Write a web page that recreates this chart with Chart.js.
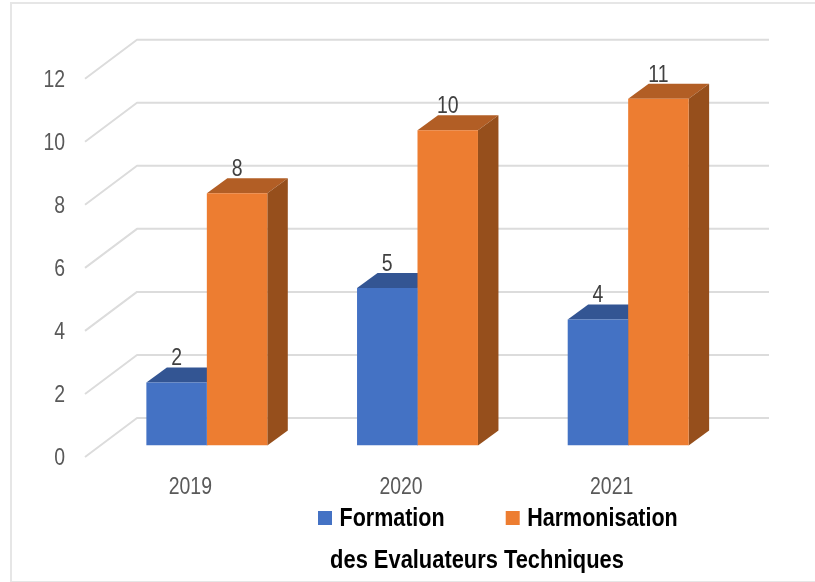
<!DOCTYPE html>
<html><head><meta charset="utf-8">
<style>html,body{margin:0;padding:0;background:#fff}
#wrap{position:relative;width:815px;height:582px;overflow:hidden}
#frame{position:absolute;left:10px;top:2px;width:820px;height:577px;border:2px solid #e6e6e6}
canvas{position:absolute;left:0;top:0}</style>
<script src="https://cdn.jsdelivr.net/npm/chart.js@4/dist/chart.umd.min.js"></script>
</head><body><div id="wrap"><div id="frame"></div><canvas id="c" width="815" height="582"></canvas></div>
<script>
const categories = ['2019', '2020', '2021'];
const formation = [2, 5, 4];
const harmonisation = [8, 10, 11];
const seriesNames = ['Formation', 'Harmonisation'];
const titleText = 'des Evaluateurs Techniques';
const FONT = '"Liberation Sans",Arial,sans-serif';
const WALL = {dx: 52, dy: -39};      // depth of the floor
const PLANE = {dx: 16.5, dy: -11.5}; // offset of the bar fronts from the front edge
const DEPTH = {dx: 20.5, dy: -15};   // depth of a bar
const shades = [{top:'#335593', side:'#2a4674'}, {top:'#B25E25', side:'#964F1C'}];
const LEGEND_PAD = 49;

// The reference text is set in a condensed face: narrow it with fillText's own maxWidth.
const canvas = document.getElementById('c');
const rawCtx = canvas.getContext('2d');
const rawFill = rawCtx.fillText.bind(rawCtx);
rawCtx.fillText = function(t, x, y){
  const squeeze = /bold/.test(rawCtx.font) ? (t === titleText ? 0.875 : 0.86) : 0.81;
  const drop = rawCtx.textBaseline === 'middle' ? 1.5 : 0;
  rawFill(t, x, y + drop, rawCtx.measureText(t).width * squeeze);
};

const threeD = {
  id: 'threeD',
  beforeLayout(chart){
    const lg = chart.legend;
    if (lg && !lg._patched){
      const fit = lg.fit;
      lg.fit = function(){ fit.call(this); this.height = 30; };
      lg._patched = true;
    }
  },
  afterLayout(chart){
    const lg = chart.legend, tb = chart.titleBlock;
    lg.left = 323 - LEGEND_PAD; lg.right = 815;
    lg.top = 505.5 - LEGEND_PAD; lg.bottom = 545;
    const tw = tb.right - tb.left;
    tb.left = 477 - tw/2; tb.right = tb.left + tw;
    const th = tb.bottom - tb.top;
    tb.top = 544.5; tb.bottom = tb.top + th;
  },
  beforeDatasetsDraw(chart){
    const {ctx, scales:{y}, chartArea:a} = chart;
    ctx.save();
    ctx.strokeStyle = '#dcdcdc'; ctx.lineWidth = 2; ctx.lineJoin = 'round';
    y.ticks.forEach(t => {
      const py = y.getPixelForValue(t.value);
      ctx.beginPath();
      ctx.moveTo(a.left, py);
      ctx.lineTo(a.left + WALL.dx, py + WALL.dy);
      ctx.lineTo(a.right + WALL.dx, py + WALL.dy);
      ctx.stroke();
    });
    ctx.translate(PLANE.dx, PLANE.dy);
    chart.data.datasets.forEach((ds, i) => {
      chart.getDatasetMeta(i).data.forEach(b => {
        const p = b.getProps(['x','y','base','width'], true);
        const l = p.x - p.width/2, r = p.x + p.width/2;
        ctx.fillStyle = shades[i].top;
        ctx.beginPath();
        ctx.moveTo(l, p.y); ctx.lineTo(l + DEPTH.dx, p.y + DEPTH.dy);
        ctx.lineTo(r + DEPTH.dx, p.y + DEPTH.dy); ctx.lineTo(r, p.y); ctx.closePath(); ctx.fill();
        ctx.fillStyle = shades[i].side;
        ctx.beginPath();
        ctx.moveTo(r, p.y); ctx.lineTo(r + DEPTH.dx, p.y + DEPTH.dy);
        ctx.lineTo(r + DEPTH.dx, p.base + DEPTH.dy); ctx.lineTo(r, p.base); ctx.closePath(); ctx.fill();
      });
    });
  },
  afterDatasetsDraw(chart){
    const {ctx} = chart;
    ctx.font = '24px ' + FONT; ctx.fillStyle = '#404040';
    ctx.textAlign = 'center'; ctx.textBaseline = 'alphabetic';
    chart.data.datasets.forEach((ds, i) => {
      chart.getDatasetMeta(i).data.forEach((b, j) => {
        const p = b.getProps(['x','y'], true);
        ctx.fillText(String(ds.data[j]), p.x, p.y + DEPTH.dy - 2);
      });
    });
    ctx.restore();
  }
};

new Chart(canvas, {
  type: 'bar',
  plugins: [threeD],
  data: {
    labels: categories,
    datasets: [
      {label: seriesNames[0], data: formation, backgroundColor: '#4472C4', borderWidth: 0},
      {label: seriesNames[1], data: harmonisation, backgroundColor: '#ED7D31', borderWidth: 0}
    ]
  },
  options: {
    responsive: false, animation: false,
    layout: {padding: {left: 0, right: 98, top: 78.7, bottom: 19}},
    datasets: {bar: {categoryPercentage: 0.574, barPercentage: 1}},
    scales: {
      x: {
        grid: {display: false, drawTicks: false}, border: {display: false},
        ticks: {color: '#595959', font: {family: FONT, size: 24}, padding: 14.5, maxRotation: 0},
        afterFit(s){ s.height = 46; }
      },
      y: {
        min: 0, max: 12,
        grid: {display: false, drawTicks: false}, border: {display: false},
        ticks: {stepSize: 2, color: '#595959', font: {family: FONT, size: 24}, padding: 20},
        afterFit(s){ s.width = 85; }
      }
    },
    plugins: {
      tooltip: {enabled: false},
      legend: {
        display: true, position: 'bottom', align: 'start',
        labels: {usePointStyle: true, pointStyle: 'rect', boxWidth: 4, boxHeight: 14, padding: LEGEND_PAD,
                 color: '#000', font: {family: FONT, size: 25, weight: 'bold'}}
      },
      title: {
        display: true, text: titleText, position: 'bottom', color: '#000',
        font: {family: FONT, size: 25, weight: 'bold'}, padding: 0
      }
    }
  }
});
</script></body></html>
